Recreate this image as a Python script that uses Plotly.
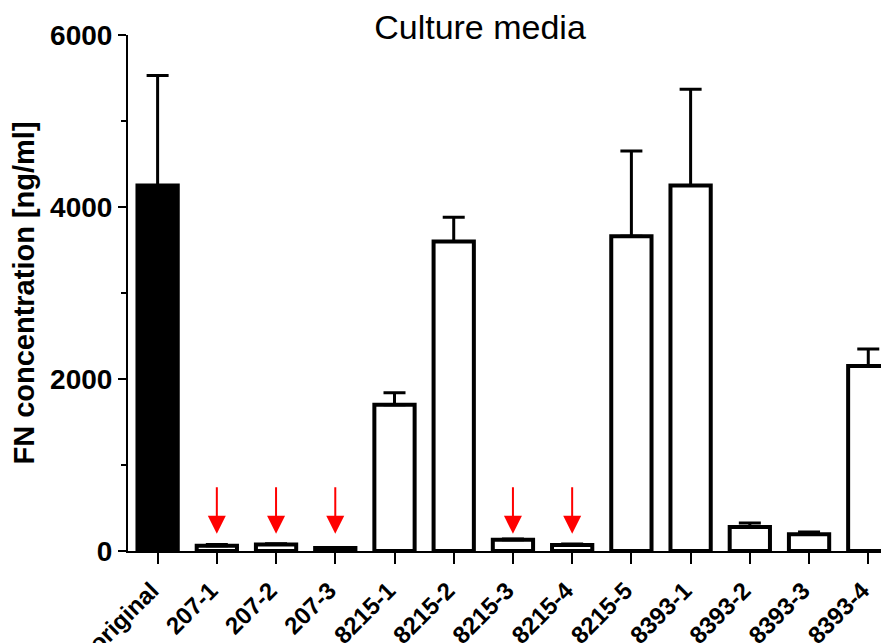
import plotly.graph_objects as go

categories = ["original", "207-1", "207-2", "207-3", "8215-1", "8215-2", "8215-3",
              "8215-4", "8215-5", "8393-1", "8393-2", "8393-3", "8393-4"]
means = [4250, 60, 75, 35, 1700, 3600, 130, 70, 3660, 4250, 280, 195, 2150]
sds = [1280, 15, 10, 5, 140, 280, 10, 10, 990, 1120, 45, 25, 200]
arrow_targets = ["207-1", "207-2", "207-3", "8215-3", "8215-4"]
y_ticks = [0, 2000, 4000, 6000]

FONT = "Liberation Sans, Arial, Helvetica, sans-serif"

# the page body has an 8px default margin; size the figure to fit the window
PAD = 8
W, H = 889 - PAD, 643 - PAD

fill_colors = ["black" if c == "original" else "white" for c in categories]

fig = go.Figure()
fig.add_trace(go.Bar(
    x=categories,
    y=means,
    width=0.68,
    marker=dict(color=fill_colors, line=dict(color="black", width=4)),
    error_y=dict(type="data", array=sds, arrayminus=[0] * len(sds), symmetric=False,
                 color="black", thickness=3, width=11),
    showlegend=False,
))

for c in arrow_targets:
    fig.add_annotation(
        x=c, y=200, xref="x", yref="y",
        ax=0, ay=-48, axref="pixel", ayref="pixel",
        showarrow=True, arrowhead=2, arrowsize=1.8, arrowwidth=2,
        arrowcolor="red", text="",
    )

fig.update_layout(
    width=W, height=H,
    margin=dict(l=128 - PAD, r=0, t=35 - PAD, b=92, autoexpand=False),
    paper_bgcolor="white", plot_bgcolor="white",
    font=dict(family=FONT, color="black"),
    title=dict(text="Culture media", x=(480 - PAD) / W, xref="container", xanchor="center",
               y=1 - (27 - PAD) / H, yref="container", yanchor="middle", automargin=False,
               font=dict(size=34, family=FONT, color="black")),
    xaxis=dict(
        type="category", range=[-0.5, 12.35], automargin=False,
        showline=True, linecolor="black", linewidth=2,
        ticks="outside", ticklen=11, tickwidth=2, tickcolor="black",
        tickangle=-45, ticklabelshift=-6, ticklabelstandoff=3,
        tickfont=dict(size=24, family=FONT, color="black", weight="bold"),
        showgrid=False, zeroline=False,
    ),
    yaxis=dict(
        range=[0, 6000], tickvals=y_ticks, automargin=False,
        showline=True, linecolor="black", linewidth=2,
        ticks="outside", ticklen=8, tickwidth=2, tickcolor="black",
        minor=dict(dtick=1000, ticks="outside", ticklen=5, tickwidth=2, tickcolor="black"),
        tickfont=dict(size=28, family=FONT, color="black", weight="bold"),
        title=dict(text="FN concentration [ng/ml]", standoff=10,
                   font=dict(size=29, family=FONT, color="black", weight="bold")),
        showgrid=False, zeroline=False,
    ),
)

fig.write_html("out.html")
